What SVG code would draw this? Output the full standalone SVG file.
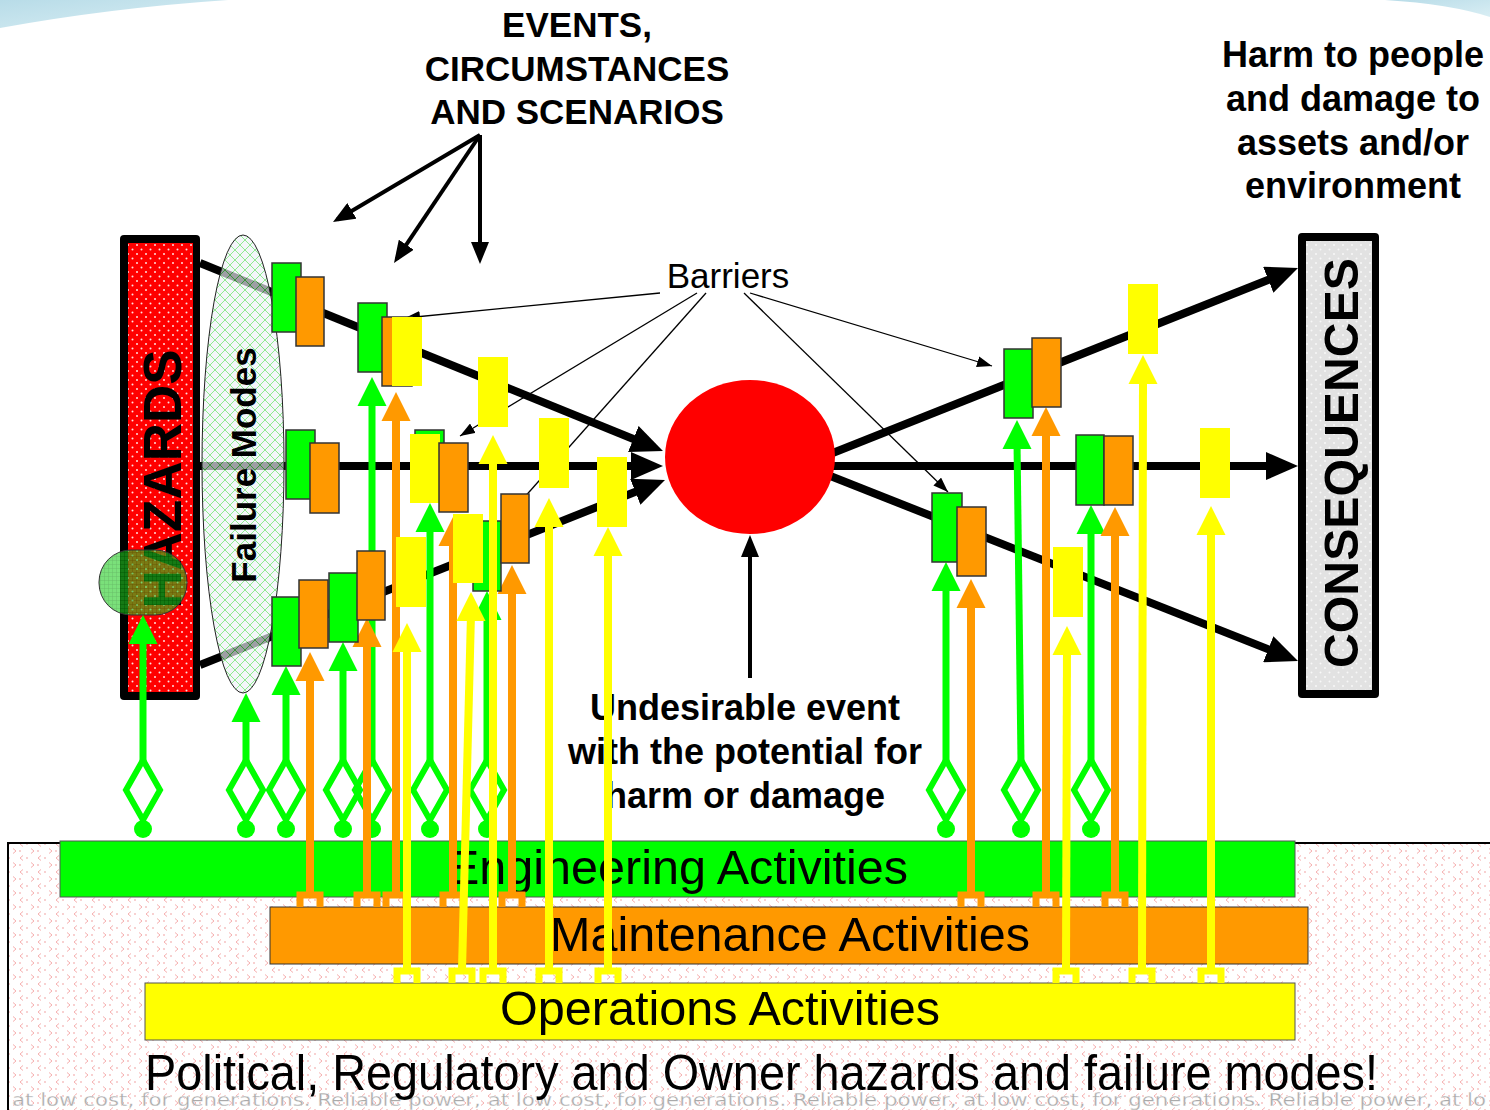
<svg xmlns="http://www.w3.org/2000/svg" xmlns:xlink="http://www.w3.org/1999/xlink" width="1490" height="1110" viewBox="0 0 1490 1110">
<style>
.bf{font-family:"Liberation Sans",Arial,Helvetica,sans-serif;font-weight:bold;fill:#000}
.nf{font-family:"Liberation Sans",Arial,Helvetica,sans-serif;fill:#000}
.narrow{font-family:"Liberation Sans Narrow","Liberation Sans",Arial,sans-serif;fill:#000}
.bg{fill:#00ff00;stroke:#333;stroke-width:1.5}
.bo{fill:#ff9900;stroke:#333;stroke-width:1.5}
.by{fill:#ffff00}
.gl{stroke:#00ff00;stroke-width:7;fill:none}
.ol{stroke:#ff9900;stroke-width:8;fill:none}
.yl{stroke:#ffff00;stroke-width:8;fill:none}
.thick{stroke:#000;stroke-width:8;fill:none}
.mid{stroke:#000;stroke-width:4;fill:none}
.thin{stroke:#000;stroke-width:1.3;fill:none}
</style>
<defs>
<linearGradient id="sw" x1="0" y1="0" x2="1" y2="1">
<stop offset="0" stop-color="#b8dce8"/><stop offset="1" stop-color="#d9eef4"/>
</linearGradient>
<pattern id="pRed" width="9" height="9" patternUnits="userSpaceOnUse">
<rect width="9" height="9" fill="#ff0000"/>
<circle cx="2" cy="2" r="1" fill="#ffdede"/>
<circle cx="6.5" cy="6.5" r="1" fill="#ffdede"/>
</pattern>
<pattern id="pGrey" width="9" height="9" patternUnits="userSpaceOnUse">
<rect width="9" height="9" fill="#e2e2e2"/>
<circle cx="2" cy="2" r="1" fill="#f8f8f8"/>
<circle cx="6.5" cy="6.5" r="1" fill="#f8f8f8"/>
</pattern>
<pattern id="pFM" width="10" height="10" patternUnits="userSpaceOnUse">
<rect width="10" height="10" fill="#eef1f7"/>
<path d="M0,5 L5,0 L10,5 L5,10 Z" fill="none" stroke="#44dd44" stroke-width="0.9"/>
</pattern>
<pattern id="pBlob" width="4" height="4" patternUnits="userSpaceOnUse">
<rect width="4" height="4" fill="#22cc22"/>
<path d="M0,0 H4 M0,0 V4" stroke="#008800" stroke-width="0.8"/>
</pattern>
<pattern id="pPink" width="18" height="14" patternUnits="userSpaceOnUse">
<rect width="18" height="14" fill="#fff"/>
<path d="M5,1.5 l-3,2.5 l3,2.5 M13,8.5 l3,2.5 l-3,2.5" stroke="#f4a6a6" stroke-width="0.9" fill="none"/>
<circle cx="9" cy="4" r="0.7" fill="#ee8080"/>
<circle cx="2" cy="11" r="0.7" fill="#ee8080"/>
</pattern>
<marker id="aBig" viewBox="0 0 32 28" markerUnits="userSpaceOnUse" markerWidth="32" markerHeight="28" refX="22" refY="14" orient="auto">
<path d="M0,0 L32,14 L0,28 Z" fill="#000"/>
</marker>
<marker id="aMid" viewBox="0 0 22 18" markerUnits="userSpaceOnUse" markerWidth="22" markerHeight="18" refX="17" refY="9" orient="auto">
<path d="M0,0 L22,9 L0,18 Z" fill="#000"/>
</marker>
<marker id="aThin" viewBox="0 0 15 11" markerUnits="userSpaceOnUse" markerWidth="15" markerHeight="11" refX="15" refY="5.5" orient="auto">
<path d="M0,0 L15,5.5 L0,11 Z" fill="#000"/>
</marker>
<path id="tri" d="M0,0 L14.5,29 L-14.5,29 Z"/>
<g id="dia">
<path d="M0,-30 L17,0 L0,30 L-17,0 Z" fill="none" stroke="#00ff00" stroke-width="6"/>
<line x1="0" y1="30" x2="0" y2="38" stroke="#00ff00" stroke-width="6"/>
<circle cx="0" cy="39" r="9" fill="#00ff00"/>
</g>
<path id="brk" d="M-10,0 V-12 H10 V0" fill="none" stroke-width="7"/>
</defs>

<!-- background decorations -->
<rect width="1490" height="1110" fill="#fff"/>
<path d="M0,0 H228 Q110,8 0,28 Z" fill="url(#sw)"/>
<path d="M1385,0 H1490 V17 Q1450,4 1385,0 Z" fill="url(#sw)"/>

<!-- bottom region -->
<g id="context-region">
<rect x="8" y="843" width="1490" height="275" fill="url(#pPink)"/>
<path d="M8,1110 V843 H1490" fill="none" stroke="#000" stroke-width="2"/>
</g>

<g id="engineering-bar">
<rect x="60" y="841" width="1235" height="56" fill="#00ff00" stroke="#555" stroke-width="1"/>
<text class="narrow" x="447" y="884" font-size="48" textLength="461" lengthAdjust="spacingAndGlyphs">Engineering Activities</text>
</g>
<g id="maintenance-bar">
<rect x="270" y="907" width="1038" height="57" fill="#ff9900" stroke="#333" stroke-width="1"/>
<text class="narrow" x="550" y="951" font-size="48" textLength="480" lengthAdjust="spacingAndGlyphs">Maintenance Activities</text>
</g>
<g id="operations-bar">
<rect x="145" y="983" width="1150" height="57" fill="#ffff00" stroke="#555" stroke-width="1"/>
<text class="narrow" x="500" y="1025" font-size="48" textLength="440" lengthAdjust="spacingAndGlyphs">Operations Activities</text>
</g>
<g id="watermark">
<text x="12" y="1106" font-family="'DejaVu Sans',Verdana,sans-serif" font-size="18" fill="#aaaaaa" stroke="#fff" stroke-width="0.3" textLength="1474" lengthAdjust="spacingAndGlyphs">at low cost,  for generations. Reliable power, at low cost,  for generations. Reliable power, at low cost,  for generations. Reliable power, at lo</text>
</g>
<g id="political-label">
<text class="narrow" x="145" y="1090" font-size="50" textLength="1233" lengthAdjust="spacingAndGlyphs">Political, Regulatory and Owner hazards and failure modes!</text>
</g>

<!-- hazards -->
<g id="hazards">
<rect x="120" y="235" width="80" height="465" rx="4" fill="#000"/>
<rect x="128" y="243" width="65" height="449" fill="url(#pRed)"/>
<text class="bf" transform="translate(181,479) rotate(-90)" font-size="53" text-anchor="middle">HAZARDS</text>
</g>

<!-- thick event lines -->
<g id="connectors-main">
<line class="thick" x1="200" y1="263" x2="653.7" y2="447.2" marker-end="url(#aBig)"/>
<line class="thick" x1="200" y1="466" x2="653" y2="466" marker-end="url(#aBig)"/>
<line class="thick" x1="200" y1="665" x2="655.7" y2="483.7" marker-end="url(#aBig)"/>
<line class="thick" x1="800" y1="466" x2="1288.7" y2="271.7" marker-end="url(#aBig)"/>
<line class="thick" x1="800" y1="466" x2="1288" y2="466" marker-end="url(#aBig)"/>
<line class="thick" x1="800" y1="464" x2="1288.7" y2="657.3" marker-end="url(#aBig)"/>
</g>

<g id="failure-modes">
<ellipse cx="243" cy="464" rx="41" ry="229" fill="url(#pFM)" fill-opacity="0.66" stroke="#222" stroke-width="1"/>
<text class="bf" transform="translate(256,465) rotate(-90)" font-size="35" text-anchor="middle">Failure Modes</text>
</g>

<g id="consequences">
<rect x="1298" y="233" width="81" height="465" rx="4" fill="#000"/>
<rect x="1306" y="241" width="66" height="449" fill="url(#pGrey)"/>
<text class="bf" transform="translate(1358,463) rotate(-90)" font-size="48" text-anchor="middle" textLength="410" lengthAdjust="spacingAndGlyphs">CONSEQUENCES</text>
</g>

<g id="top-event">
<ellipse cx="750" cy="457" rx="85" ry="77" fill="#ff0000"/>
</g>

<g id="heading-events">
<text class="bf" x="577" y="37" font-size="35" text-anchor="middle">EVENTS,</text>
<text class="bf" x="577" y="81" font-size="35" text-anchor="middle">CIRCUMSTANCES</text>
<text class="bf" x="577" y="124" font-size="35" text-anchor="middle">AND SCENARIOS</text>
</g>
<g id="heading-harm">
<text class="bf" x="1353" y="67" font-size="36" text-anchor="middle">Harm to people</text>
<text class="bf" x="1353" y="111" font-size="36" text-anchor="middle">and damage to</text>
<text class="bf" x="1353" y="155" font-size="36" text-anchor="middle">assets and/or</text>
<text class="bf" x="1353" y="198" font-size="36" text-anchor="middle">environment</text>
</g>
<g id="label-barriers">
<text class="nf" x="728" y="288" font-size="35" text-anchor="middle">Barriers</text>
</g>
<g id="label-undesirable">
<text class="bf" x="745" y="720" font-size="36" text-anchor="middle">Undesirable event</text>
<text class="bf" x="745" y="764" font-size="36" text-anchor="middle">with the potential for</text>
<text class="bf" x="745" y="808" font-size="36" text-anchor="middle">harm or damage</text>
</g>

<g id="connectors-labels">
<line class="mid" x1="480" y1="135" x2="337.3" y2="219.5" marker-end="url(#aMid)"/>
<line class="mid" x1="480" y1="135" x2="396.8" y2="258.8" marker-end="url(#aMid)"/>
<line class="mid" x1="480" y1="135" x2="480" y2="259" marker-end="url(#aMid)"/>
<line class="mid" x1="750" y1="678" x2="750" y2="540" marker-end="url(#aMid)"/>
<line class="thin" x1="660" y1="293" x2="405" y2="318" marker-end="url(#aThin)"/>
<line class="thin" x1="697" y1="293" x2="460" y2="436" marker-end="url(#aThin)"/>
<line class="thin" x1="706" y1="293" x2="522" y2="500"/>
<line class="thin" x1="744" y1="293" x2="948" y2="492" marker-end="url(#aThin)"/>
<line class="thin" x1="750" y1="293" x2="992" y2="366" marker-end="url(#aThin)"/>
</g>

<g id="hazard-blob">
<rect x="99" y="550" width="88" height="65" rx="32" fill="url(#pBlob)" fill-opacity="0.6" stroke="#333" stroke-width="1"/>
</g>

<!-- engineering (green) connectors -->
<g id="connectors-engineering">
<line class="gl" x1="143" y1="762" x2="143" y2="637"/><use href="#tri" x="143" y="615" fill="#00ff00"/><use href="#dia" x="143" y="790"/>
<line class="gl" x1="246" y1="762" x2="246" y2="715"/><use href="#tri" x="246" y="693" fill="#00ff00"/><use href="#dia" x="246" y="790"/>
<line class="gl" x1="286" y1="762" x2="286" y2="688"/><use href="#tri" x="286" y="666" fill="#00ff00"/><use href="#dia" x="286" y="790"/>
<line class="gl" x1="343" y1="762" x2="343" y2="664"/><use href="#tri" x="343" y="642" fill="#00ff00"/><use href="#dia" x="343" y="790"/>
<line class="gl" x1="372" y1="762" x2="372" y2="399"/><use href="#tri" x="372" y="377" fill="#00ff00"/><use href="#dia" x="372" y="790"/>
<line class="gl" x1="430" y1="762" x2="430" y2="525"/><use href="#tri" x="430" y="503" fill="#00ff00"/><use href="#dia" x="430" y="790"/>
<line class="gl" x1="487" y1="762" x2="487" y2="613"/><use href="#tri" x="487" y="591" fill="#00ff00"/><use href="#dia" x="487" y="790"/>
<line class="gl" x1="946" y1="762" x2="946" y2="584"/><use href="#tri" x="946" y="562" fill="#00ff00"/><use href="#dia" x="946" y="790"/>
<line class="gl" x1="1021" y1="762" x2="1017" y2="442"/><use href="#tri" x="1017" y="420" fill="#00ff00"/><use href="#dia" x="1021" y="790"/>
<line class="gl" x1="1091" y1="762" x2="1091" y2="527"/><use href="#tri" x="1091" y="505" fill="#00ff00"/><use href="#dia" x="1091" y="790"/>
</g>

<!-- maintenance (orange) connectors -->
<g id="connectors-maintenance">
<line class="ol" x1="310" y1="894" x2="310" y2="674"/><use href="#tri" x="310" y="652" fill="#ff9900"/><use href="#brk" x="310" y="907" stroke="#ff9900"/>
<line class="ol" x1="367" y1="894" x2="367" y2="640"/><use href="#tri" x="367" y="618" fill="#ff9900"/><use href="#brk" x="367" y="907" stroke="#ff9900"/>
<line class="ol" x1="396" y1="894" x2="396" y2="414"/><use href="#tri" x="396" y="392" fill="#ff9900"/><use href="#brk" x="396" y="907" stroke="#ff9900"/>
<line class="ol" x1="453" y1="894" x2="453" y2="539"/><use href="#tri" x="453" y="517" fill="#ff9900"/><use href="#brk" x="453" y="907" stroke="#ff9900"/>
<line class="ol" x1="512" y1="894" x2="512" y2="587"/><use href="#tri" x="512" y="565" fill="#ff9900"/><use href="#brk" x="512" y="907" stroke="#ff9900"/>
<line class="ol" x1="971" y1="894" x2="971" y2="601"/><use href="#tri" x="971" y="579" fill="#ff9900"/><use href="#brk" x="971" y="907" stroke="#ff9900"/>
<line class="ol" x1="1046" y1="894" x2="1046" y2="429"/><use href="#tri" x="1046" y="407" fill="#ff9900"/><use href="#brk" x="1046" y="907" stroke="#ff9900"/>
<line class="ol" x1="1115" y1="894" x2="1115" y2="529"/><use href="#tri" x="1115" y="507" fill="#ff9900"/><use href="#brk" x="1115" y="907" stroke="#ff9900"/>
</g>

<!-- operations (yellow) connectors -->
<g id="connectors-operations">
<line class="yl" x1="407" y1="970" x2="407" y2="645"/><use href="#tri" x="407" y="623" fill="#ffff00"/><use href="#brk" x="407" y="983" stroke="#ffff00"/>
<line class="yl" x1="462" y1="970" x2="471" y2="614"/><use href="#tri" x="471" y="592" fill="#ffff00"/><use href="#brk" x="462" y="983" stroke="#ffff00"/>
<line class="yl" x1="549" y1="970" x2="549" y2="520"/><use href="#tri" x="549" y="498" fill="#ffff00"/><use href="#brk" x="549" y="983" stroke="#ffff00"/>
<line class="yl" x1="608" y1="970" x2="608" y2="549"/><use href="#tri" x="608" y="527" fill="#ffff00"/><use href="#brk" x="608" y="983" stroke="#ffff00"/>
<line class="yl" x1="1066" y1="970" x2="1067" y2="648"/><use href="#tri" x="1067" y="626" fill="#ffff00"/><use href="#brk" x="1066" y="983" stroke="#ffff00"/>
<line class="yl" x1="1142" y1="970" x2="1143" y2="377"/><use href="#tri" x="1143" y="355" fill="#ffff00"/><use href="#brk" x="1142" y="983" stroke="#ffff00"/>
<line class="yl" x1="1211" y1="970" x2="1211" y2="528"/><use href="#tri" x="1211" y="506" fill="#ffff00"/><use href="#brk" x="1211" y="983" stroke="#ffff00"/>
</g>

<!-- barriers -->
<g id="barrier-L1a"><rect class="bg" x="272" y="263" width="29" height="69"/><rect class="bo" x="296" y="277" width="28" height="69"/></g>
<g id="barrier-L1b"><rect class="bg" x="358" y="303" width="29" height="69"/><rect class="bo" x="382" y="317" width="30" height="69"/><rect class="by" x="392" y="317" width="30" height="69"/></g>
<g id="barrier-L1c"><rect class="by" x="478" y="357" width="30" height="70"/></g>
<g id="barrier-L2a"><rect class="bg" x="286" y="430" width="29" height="69"/><rect class="bo" x="310" y="443" width="29" height="70"/></g>
<g id="barrier-L2b"><rect class="bg" x="415" y="430" width="29" height="70"/><rect class="by" x="410" y="434" width="30" height="69"/><rect class="bo" x="439" y="443" width="29" height="69"/></g>
<g id="barrier-L2c"><rect class="by" x="539" y="418" width="30" height="70"/></g>
<g id="barrier-L2d"><rect class="by" x="597" y="457" width="30" height="70"/></g>
<g id="barrier-L3a"><rect class="bg" x="272" y="597" width="29" height="69"/><rect class="bo" x="299" y="580" width="29" height="68"/></g>
<g id="barrier-L3b"><rect class="bg" x="329" y="573" width="29" height="69"/><rect class="bo" x="357" y="551" width="28" height="69"/></g>
<g id="barrier-L3c"><rect class="by" x="396" y="537" width="30" height="70"/></g>
<g id="barrier-L3d"><rect class="bg" x="473" y="521" width="28" height="70"/><rect class="by" x="453" y="514" width="30" height="69"/></g>
<g id="barrier-L3e"><rect class="bo" x="501" y="494" width="28" height="69"/></g>
<g id="barrier-R1a"><rect class="bg" x="1004" y="349" width="29" height="69"/><rect class="bo" x="1032" y="338" width="29" height="69"/></g>
<g id="barrier-R1b"><rect class="by" x="1128" y="284" width="30" height="70"/></g>
<g id="barrier-R2a"><rect class="bg" x="1076" y="435" width="28" height="70"/><rect class="bo" x="1104" y="436" width="29" height="69"/></g>
<g id="barrier-R2b"><rect class="by" x="1200" y="428" width="30" height="70"/></g>
<g id="barrier-R3a"><rect class="bg" x="932" y="493" width="30" height="69"/><rect class="bo" x="957" y="507" width="29" height="69"/></g>
<g id="barrier-R3b"><rect class="by" x="1053" y="547" width="30" height="70"/></g>

<!-- operations connector drawn over barriers -->
<g id="connectors-operations-front">
<line class="yl" x1="493" y1="970" x2="493" y2="457"/><use href="#tri" x="493" y="435" fill="#ffff00"/><use href="#brk" x="493" y="983" stroke="#ffff00"/>
</g>
</svg>
